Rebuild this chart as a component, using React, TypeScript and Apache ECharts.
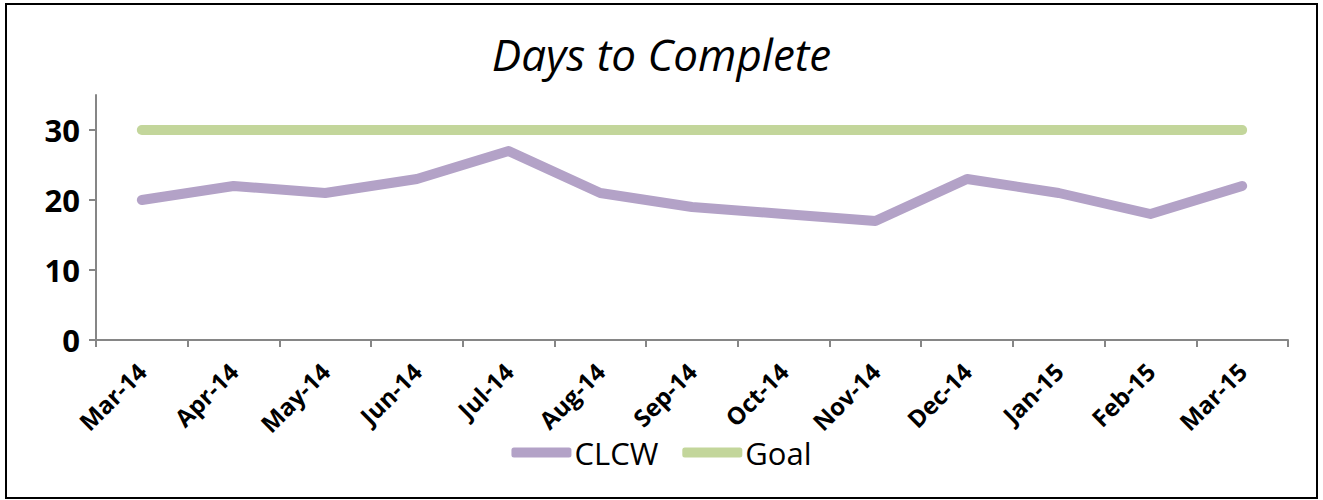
import React, { useEffect, useRef } from "react";
import * as echarts from "echarts";

const months = ["Mar-14","Apr-14","May-14","Jun-14","Jul-14","Aug-14","Sep-14","Oct-14","Nov-14","Dec-14","Jan-15","Feb-15","Mar-15"];
const clcw = [20, 22, 21, 23, 27, 21, 19, 18, 17, 23, 21, 18, 22];
const goal = [30, 30, 30, 30, 30, 30, 30, 30, 30, 30, 30, 30, 30];

const FONT = "'Open Sans', sans-serif";

export default function App() {
  const ref = useRef<HTMLDivElement>(null);
  useEffect(() => {
    document.body.style.margin = "0";
    const chart = echarts.init(ref.current!, null, { renderer: "svg" });
    chart.setOption({
      animation: false,
      backgroundColor: "#ffffff",
      title: {
        text: "Days to Complete",
        left: "center",
        top: 27,
        textStyle: { fontFamily: FONT, fontStyle: "italic", fontWeight: "normal", fontSize: 44, color: "#000" },
      },
      graphic: [
        {
          type: "rect",
          shape: { x: 6, y: 4, width: 1311, height: 494 },
          style: { fill: "none", stroke: "#000", lineWidth: 2 },
          silent: true,
        },
      ],
      legend: {
        bottom: 27,
        left: "center",
        itemWidth: 60,
        itemHeight: 10,
        itemGap: 24,
        icon: "roundRect",
        textStyle: { fontFamily: FONT, fontSize: 31, color: "#000", padding: [0, 0, 0, -2] },
        data: ["CLCW", "Goal"],
      },
      grid: { left: 96, right: 35, top: 95, bottom: 160, containLabel: false },
      xAxis: {
        type: "category",
        data: months,
        boundaryGap: true,
        axisLine: { lineStyle: { color: "#868686", width: 2 } },
        axisTick: { show: true, length: 7, lineStyle: { color: "#868686", width: 2 } },
        axisLabel: { rotate: 45, fontFamily: FONT, fontWeight: "bold", fontSize: 24, color: "#000", margin: 27, interval: 0 },
      },
      yAxis: {
        type: "value",
        min: 0,
        max: 35,
        interval: 10,
        axisLine: { show: true, lineStyle: { color: "#868686", width: 2 } },
        axisTick: { show: true, length: 7, lineStyle: { color: "#868686", width: 2 } },
        splitLine: { show: false },
        axisLabel: { fontFamily: FONT, fontWeight: "bold", fontSize: 31, color: "#000", margin: 16, showMaxLabel: false },
      },
      series: [
        {
          name: "CLCW",
          type: "line",
          data: clcw,
          showSymbol: false,
          symbol: "none",
          color: "#B3A2C7",
          lineStyle: { color: "#B3A2C7", width: 10, cap: "round", join: "round" },
        },
        {
          name: "Goal",
          type: "line",
          data: goal,
          showSymbol: false,
          symbol: "none",
          color: "#C3D69B",
          lineStyle: { color: "#C3D69B", width: 10, cap: "round", join: "round" },
        },
      ],
    });
    return () => chart.dispose();
  }, []);
  return <div ref={ref} style={{ width: 1323, height: 500 }} />;
}
